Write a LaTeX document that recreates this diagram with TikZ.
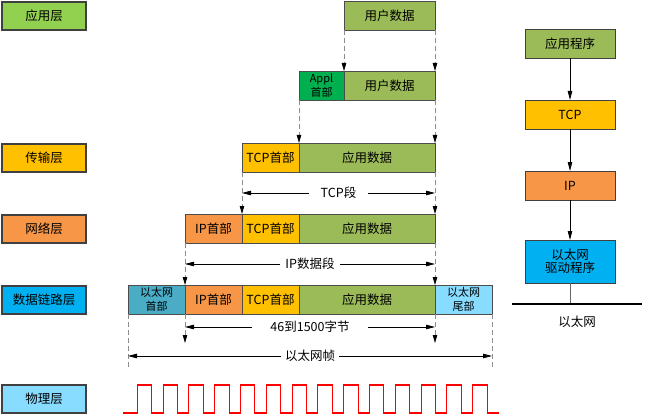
\documentclass[tikz,border=0pt]{standalone}
\usepackage{fontspec}
\setmainfont{Noto Sans CJK SC}
\usetikzlibrary{arrows.meta, positioning, calc}

\definecolor{appgreen}{HTML}{92D050}
\definecolor{datagreen}{HTML}{9BBB59}
\definecolor{applhead}{HTML}{00B050}
\definecolor{tcpyellow}{HTML}{FFC000}
\definecolor{iporange}{HTML}{F79646}
\definecolor{linkblue}{HTML}{00B0F0}
\definecolor{ethhead}{HTML}{4BACC6}
\definecolor{phyblue}{HTML}{87DCFF}

\begin{document}
\begin{tikzpicture}[
      x=1pt, y=-1pt,
      font=\fontsize{12.5}{13.5}\selectfont,
      layer/.style={rectangle, draw=black!75, line width=1.2pt, minimum width=84pt, minimum height=28pt, inner sep=0pt, outer sep=0pt, anchor=north west},
      seg/.style={rectangle, draw=black!70, line width=0.8pt, minimum height=29pt, inner sep=0pt, outer sep=0pt, align=center},
      twoline/.style={font=\fontsize{11}{13.5}\selectfont},
      stackbox/.style={rectangle, draw=black!75, line width=0.8pt, minimum width=90pt, minimum height=29pt, inner sep=0pt, outer sep=0pt, align=center, anchor=north},
      guide/.style={draw=black!45, line width=0.8pt, dash pattern=on 5pt off 3pt},
      guidearrow/.style={guide, -{Triangle[width=4.5pt, length=8pt, color=black]}},
      dim/.style={{Triangle[width=4.5pt, length=9pt]}-{Triangle[width=4.5pt, length=9pt]}, line width=0.8pt},
      flow/.style={-{Triangle[width=4.5pt, length=9pt]}, line width=0.8pt},
      wave/.style={red, line width=1.1pt}
    ]
    \useasboundingbox (0,0) rectangle (645,417);

    % layer names
    \node[layer, fill=appgreen] (la) at (2,2) {应用层};
    \node[layer, fill=tcpyellow] (lt) at (2,144) {传输层};
    \node[layer, fill=iporange] (ln) at (2,215) {网络层};
    \node[layer, fill=linkblue] (ll) at (2,286) {数据链路层};
    \node[layer, fill=phyblue] (lp) at (2,385) {物理层};

    % row 1
    \node[seg, fill=datagreen, minimum width=91pt, anchor=north west] (ud1) at (344,1) {用户数据};

    % row 2
    \node[seg, twoline, fill=applhead, minimum width=45pt, anchor=north west] (ah2) at (299,71) {Appl\\首部};
    \node[seg, fill=datagreen, minimum width=91pt, right=0pt of ah2] (ud2) {用户数据};

    % row 3
    \node[seg, fill=tcpyellow, minimum width=57pt, anchor=north west] (th3) at (242,143) {TCP首部};
    \node[seg, fill=datagreen, minimum width=136pt, right=0pt of th3] (ad3) {应用数据};

    % row 4
    \node[seg, fill=iporange, minimum width=57pt, anchor=north west] (ih4) at (185,214) {IP首部};
    \node[seg, fill=tcpyellow, minimum width=57pt, right=0pt of ih4] (th4) {TCP首部};
    \node[seg, fill=datagreen, minimum width=136pt, right=0pt of th4] (ad4) {应用数据};

    % row 5
    \node[seg, twoline, fill=ethhead, minimum width=57pt, anchor=north west] (eh5) at (128,285) {以太网\\首部};
    \node[seg, fill=iporange, minimum width=57pt, right=0pt of eh5] (ih5) {IP首部};
    \node[seg, fill=tcpyellow, minimum width=57pt, right=0pt of ih5] (th5) {TCP首部};
    \node[seg, fill=datagreen, minimum width=136pt, right=0pt of th5] (ad5) {应用数据};
    \node[seg, twoline, fill=phyblue, minimum width=57pt, right=0pt of ad5] (et5) {以太网\\尾部};

    % guides between rows
    \draw[guidearrow] (ud1.south west) -- (ud2.north west);
    \draw[guidearrow] (ud1.south east) -- (ud2.north east);
    \draw[guidearrow] (ah2.south west) -- (ad3.north west);
    \draw[guidearrow] (ud2.south east) -- (ad3.north east);
    \draw[guidearrow] (th3.south west) -- (th4.north west);
    \draw[guidearrow] (ad3.south east) -- (ad4.north east);
    \draw[guidearrow] (ih4.south west) -- (ih5.north west);
    \draw[guidearrow] (ad4.south east) -- (ad5.north east);

    \coordinate (pl) at ($(ih5.south west)+(0,29)$);
    \coordinate (pr) at ($(ad5.south east)+(0,29)$);
    \coordinate (fl) at ($(eh5.south west)+(0,56)$);
    \coordinate (fr) at ($(et5.south east)+(0,56)$);
    \draw[guidearrow] (ih5.south west) -- (pl);
    \draw[guidearrow] (ad5.south east) -- (pr);
    \draw[guide] (eh5.south west) -- (fl);
    \draw[guide] (et5.south east) -- (fr);

    % lengths
    \draw[dim] ($(th3.south west)!.5!(th4.north west)$) -- node[fill=white, inner xsep=12pt] {TCP段} ($(ad3.south east)!.5!(ad4.north east)$);
    \draw[dim] ($(ih4.south west)!.5!(ih5.north west)$) -- node[fill=white, inner xsep=5pt] {IP数据段} ($(ad4.south east)!.5!(ad5.north east)$);
    \draw[dim] ($(ih5.south west)+(0,13)$) -- node[fill=white, inner xsep=18pt] {46到1500字节} ($(ad5.south east)+(0,13)$);
    \draw[dim] ($(eh5.south west)+(0,42)$) -- node[fill=white, inner xsep=4pt] {以太网帧} ($(et5.south east)+(0,42)$);

    % signal
    \draw[wave] (123,413) \foreach \i in {0,...,13} { -- ({137.3+25.8*\i},413) -- ++(0,-28) -- ++(14.4,0) -- ++(0,28) } -- (499,413);

    % protocol stack
    \node[stackbox, fill=datagreen] (ap) at (570,29) {应用程序};
    \node[stackbox, fill=tcpyellow] (tc) at (570,100) {TCP};
    \node[stackbox, fill=iporange] (ip) at (570,171) {IP};
    \node[stackbox, fill=linkblue, minimum height=43pt] (dr) at (570,240) {以太网\\驱动程序};
    \coordinate (busl) at (512,304);
    \coordinate (busr) at (642,304);
    \coordinate (tap) at (dr.south |- busl);
    \node (bus) at (577,322) {以太网};

    \draw[flow] (ap) -- (tc);
    \draw[flow] (tc) -- (ip);
    \draw[flow] (ip) -- (dr);
    \draw[black!60, line width=0.8pt] (dr.south) -- (tap);
    \draw[line width=1.6pt] (busl) -- (busr);
\end{tikzpicture}
\end{document}
